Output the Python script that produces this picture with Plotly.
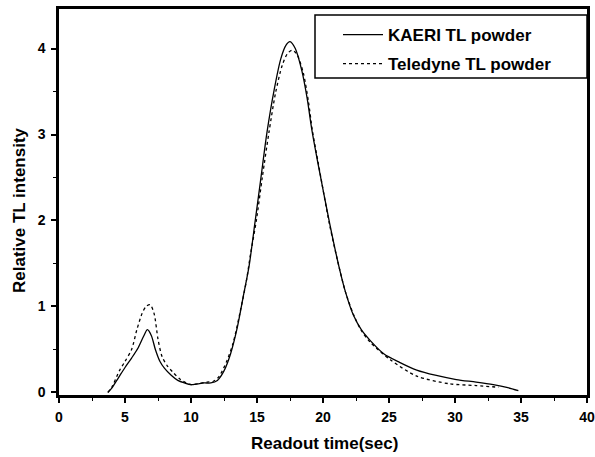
import plotly.graph_objects as go

# KAERI TL powder (solid)
kaeri_x = [3.7, 4.0, 4.5, 5.0, 5.5, 6.0, 6.4, 6.7, 7.0, 7.3, 7.65, 8.0, 8.5, 9.0, 9.5, 10.0, 10.5, 11.0, 11.5, 12.0,
           12.5, 13.0, 13.5, 14.0, 14.4, 14.85, 15.3, 15.75, 16.3, 16.8, 17.2, 17.5, 17.9, 18.4, 18.8, 19.15, 19.6, 20.5,
           21.2, 21.7, 22.3, 22.9, 23.6, 24.6, 25.8, 27.1, 28.5, 30.1, 31.6, 32.9, 34.0, 34.8]
kaeri_y = [0.0, 0.05, 0.17, 0.29, 0.40, 0.52, 0.65, 0.73, 0.66, 0.50, 0.36, 0.28, 0.20, 0.14, 0.11, 0.09, 0.10, 0.11, 0.11, 0.14,
           0.25, 0.45, 0.75, 1.15, 1.47, 1.98, 2.5, 3.02, 3.52, 3.88, 4.04, 4.08, 4.0, 3.74, 3.42, 3.06, 2.68, 1.97,
           1.47, 1.17, 0.90, 0.73, 0.60, 0.45, 0.35, 0.26, 0.20, 0.15, 0.12, 0.09, 0.055, 0.02]

# Teledyne TL powder (dotted)
tel_x = [3.7, 4.0, 4.6, 5.0, 5.5, 5.9, 6.3, 6.6, 6.9, 7.2, 7.5, 7.8, 8.2, 8.6, 9.2, 10.0, 10.5, 11.2, 11.7, 12.1,
         12.7, 13.2, 13.7, 14.2, 14.5, 14.95, 15.4, 15.9, 16.4, 16.9, 17.3, 17.65, 18.0, 18.5, 18.9, 19.2, 19.65, 20.5,
         21.2, 21.7, 22.3, 22.9, 23.6, 25.1, 27.1, 29.6, 31.6, 33.3]
tel_y = [0.0, 0.06, 0.26, 0.36, 0.50, 0.73, 0.92, 1.0, 1.02, 0.92, 0.62, 0.42, 0.31, 0.24, 0.15, 0.09, 0.10, 0.12, 0.13, 0.18,
         0.36, 0.58, 0.92, 1.3, 1.6, 2.0, 2.5, 3.02, 3.48, 3.8, 3.94, 3.98, 3.94, 3.72, 3.38, 3.04, 2.66, 1.95,
         1.47, 1.17, 0.91, 0.72, 0.58, 0.38, 0.19, 0.10, 0.08, 0.06]

x_ticks = [0, 5, 10, 15, 20, 25, 30, 35, 40]
y_ticks = [0, 1, 2, 3, 4]

L, R, T, B = 59, 587, 9, 395
W, H = R - L, B - T

fig = go.Figure()
fig.add_trace(go.Scatter(x=kaeri_x, y=kaeri_y, mode="lines", name="KAERI TL powder", legendgroup="a",
                         line=dict(color="black", width=1.3, shape="spline", smoothing=0.8)))
fig.add_trace(go.Scatter(x=tel_x, y=tel_y, mode="lines", name="Teledyne TL powder", legendgroup="b",
                         line=dict(color="black", width=1.3, dash="dot", shape="spline", smoothing=0.8)))

fam = "Liberation Sans, Arial"
tick_font = dict(family=fam, size=14, color="black", weight="bold")
title_font = dict(family=fam, size=17, color="black", weight="bold")

fig.update_layout(
    width=595, height=457,
    margin=dict(l=L, r=595 - R, t=T, b=457 - B, autoexpand=False),
    paper_bgcolor="white", plot_bgcolor="white",
    showlegend=True,
    legend=dict(x=(338 - L) / W, y=(B - 17) / H, xanchor="left", yanchor="top",
                bgcolor="rgba(0,0,0,0)", borderwidth=0,
                font=dict(family=fam, size=17, color="black", weight="bold"),
                tracegroupgap=4, itemwidth=40),
    shapes=[dict(type="rect", xref="paper", yref="paper",
                 x0=(315 - L) / W, x1=1.0, y0=(B - 78) / H, y1=(B - 15) / H,
                 line=dict(color="black", width=1.5), fillcolor="rgba(0,0,0,0)")],
    annotations=[
        dict(text="Readout time(sec)", xref="paper", yref="paper", x=(324 - L) / W, y=(B - 443) / H,
             xanchor="center", yanchor="middle", showarrow=False, font=title_font),
        dict(text="Relative TL intensity", xref="paper", yref="paper", x=(19 - L) / W, y=(B - 210) / H,
             xanchor="center", yanchor="middle", showarrow=False, textangle=-90, font=title_font),
    ],
    xaxis=dict(range=[0, 40], tickvals=x_ticks, ticktext=[str(v) for v in x_ticks],
               ticks="outside", ticklen=5, tickwidth=1.5, tickcolor="black", ticklabelstandoff=2,
               minor=dict(dtick=2.5, tick0=0, ticks="outside", ticklen=3, tickwidth=1.2, tickcolor="black"),
               showline=True, linecolor="black", linewidth=2.5, mirror=True,
               showgrid=False, zeroline=False, tickfont=tick_font),
    yaxis=dict(range=[-0.03, 4.46], tickvals=y_ticks, ticktext=[str(v) for v in y_ticks],
               ticks="outside", ticklen=5, tickwidth=1.5, tickcolor="black", ticklabelstandoff=3,
               minor=dict(dtick=0.5, tick0=0, ticks="outside", ticklen=3, tickwidth=1.2, tickcolor="black"),
               showline=True, linecolor="black", linewidth=2.5, mirror=True,
               showgrid=False, zeroline=False, tickfont=tick_font),
)

fig.write_html("out.html")
